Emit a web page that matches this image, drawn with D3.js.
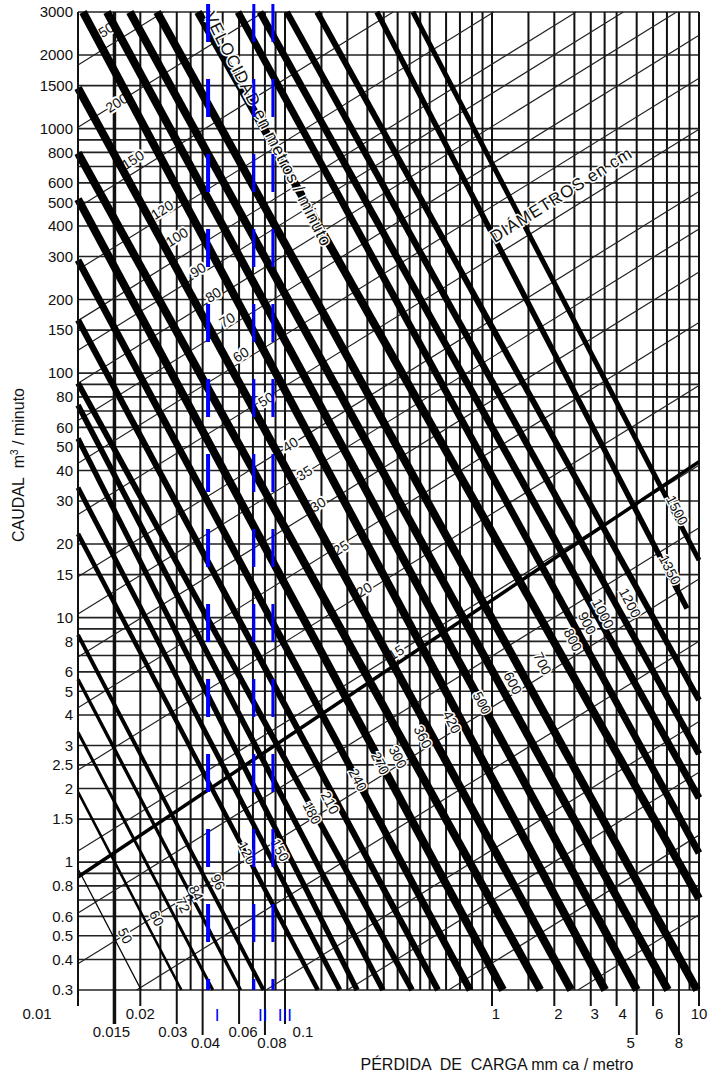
<!DOCTYPE html>
<html>
<head>
<meta charset="utf-8">
<script src="https://cdn.jsdelivr.net/npm/d3@7/dist/d3.min.js"></script>
<style>
  body { margin: 0; background: #fff; }
  text { font-family: "Liberation Sans", Arial, sans-serif; fill: #111; }
</style>
</head>
<body>
<svg id="chart" width="711" height="1077"></svg>
<script>
// ---- data ----
// horizontal grid (caudal m3/min)
const caudalGrid = [3000,2000,1500,1000,900,800,700,600,500,400,300,200,150,100,90,80,70,60,50,40,30,20,15,10,9,8,7,6,5,4,3,2.5,2,1.5,1,0.9,0.8,0.7,0.6,0.5,0.4,0.3];
const caudalTicks = [3000,2000,1500,1000,800,600,500,400,300,200,150,100,80,60,50,40,30,20,15,10,8,6,5,4,3,2.5,2,1.5,1,0.8,0.6,0.5,0.4,0.3];
// vertical grid (perdida de carga mm ca / metro)
const perdidaGrid = [0.01,0.015,0.02,0.025,0.03,0.035,0.04,0.05,0.06,0.07,0.08,0.09,0.1,0.15,0.2,0.25,0.3,0.35,0.4,0.45,0.5,0.6,0.7,0.8,0.9,1,1.5,2,2.5,3,3.5,4,5,6,7,8,9,10];
const perdidaTicks = [0.01,0.015,0.02,0.03,0.04,0.06,0.08,0.1,1,2,3,4,5,6,8,10];
const perdidaTickText = ["0.01","0.015","0.02","0.03","0.04","0.06","0.08","0.1","1","2","3","4","5","6","8","10"];
const perdidaTickRow = [0,1,0,1,2,1,2,1,0,0,0,0,2,0,2,0];
const perdidaTickShift = [-41,-3,0,-4,3,4,7,18,4,4,4,6,-6,6,0,0];

// velocity lines (m/min): start point and end point [perdida, caudal]
const velocidad = [50,60,72,84,96,120,150,180,210,240,270,300,360,420,500,600,700,800,900,1000,1100,1200,1300,1350,1400,1500];
const velInicio = [[0.01,0.94],[0.01,1.94],[0.01,3.4],[0.01,5.6],[0.01,8.5],[0.01,22],[0.01,34],[0.01,54],[0.01,74],[0.01,91],[0.01,165],[0.01,290],[0.01,515],[0.01,795],[0.01,1466],
  [0.01057,3000],[0.0138,3000],[0.0178,3000],[0.0241,3000],[0.038,3000],[0.0593,3000],[0.0757,3000],[0.102,3000],[0.143,3000],[0.278,3000],[0.415,3000]];
const velFin = [[0.0202,0.3],[0.0316,0.3],[0.0448,0.3],[0.061,0.3],[0.0787,0.3],[0.144,0.3],[0.184,0.3],[0.223,0.3],[0.297,0.3],[0.411,0.3],[0.548,0.3],[0.783,0.3],[1.13,0.3],[1.71,0.3],[2.41,0.3],
  [3.52,0.3],[5.01,0.3],[7.08,0.3],[9.78,0.3],[10,0.71],[10,1.09],[10,1.83],[10,2.77],[10,4.6],[8.75,10.9],[10,17.2]];
const velGrosor = [1.3,2.6,3,3.4,4,4.6,5,5.4,5.6,5.8,6.2,7,8,8,8,8,8,8,8,8,7,7,6.5,6,5.5,5];
const velTexto = ["50","60","72","84","96","120","150","180","210","240","270","300","360","420","500","600","700","800","900","1000","","1200","","","1350","1500"];
const velTextoPos = [[0.0169,0.50],[0.024,0.59],[0.0321,0.668],[0.0372,0.748],[0.0474,0.83],[0.0655,1.09],[0.0946,1.12],[0.135,1.59],[0.165,1.75],[0.225,2.17],[0.288,2.54],[0.351,2.69],[0.464,3.25],[0.64,3.74],[0.895,4.48],[1.26,5.4],[1.75,6.5],[2.46,8.1],[2.88,9.5],[3.44,10.4],[4,10],[4.64,11.5],[6,12],[6,12],[7.24,15.7],[7.83,27.5]];

// diameter lines (cm): start and end [perdida, caudal]
const diametro = [250,200,150,120,100,90,80,70,60,50,40,35,30,25,20,15,12,10,8,6,5,4,3];
const diaInicio = [[0.01,1820],[0.01,1014],[0.01,476],[0.01,265],[0.01,164],[0.01,124],[0.01,91],[0.01,64],[0.01,42.8],[0.01,26.4],[0.01,14.7],[0.01,10.35],[0.01,6.9],[0.01,4.28],[0.01,2.38],[0.01,1.11],[0.01,0.62],[0.01,0.384],[0.0192,0.3],[0.081,0.3],[0.2,0.3],[0.617,0.3],[2.6,0.3]];
const diaFin = [[0.0259,3000],[0.0789,3000],[0.333,3000],[1.02,3000],[2.55,3000],[4.31,3000],[7.8,3000],[10,2410],[10,1609],[10,994],[10,553],[10,389],[10,259],[10,161],[10,89],[10,42],[10,23.3],[10,14.4],[10,8.0],[10,3.76],[10,2.33],[10,1.29],[10,0.61]];
const diaTexto = ["250","200","150","120","100","90","80","70","60","50","40","35","30","25","20","15"];
const diaTextoPos = [[0.0132,2485],[0.0154,1274],[0.0184,745],[0.0255,465],[0.030,360],[0.038,264],[0.045,209],[0.0525,165],[0.0612,119],[0.081,78],[0.106,51],[0.124,39],[0.144,29],[0.186,19.3],[0.241,13],[0.344,7.2]];

// heavy rising line
const lineaGruesa = [[0.01,0.87],[10,43.4]];

// blue zone limits
const zonas = ["I","II","III"];
const zonaPerdida = [0.0425,0.0707,0.0874];
const zonaGrosor = [4,3,3];
const zonaTextoDx = [9,9,12];

// ---- drawing ----
const svg = d3.select("#chart");
const x = d3.scaleLog().domain([0.01, 10]).range([78, 699]);
const y = d3.scaleLog().domain([0.3, 3000]).range([990, 12]);
const yTop = y(3000), yBot = y(0.3);

// horizontal grid
svg.append("g").selectAll("line").data(caudalGrid).join("line")
  .attr("x1", x(0.01)).attr("x2", x(10))
  .attr("y1", d => y(d)).attr("y2", d => y(d))
  .attr("stroke", "#222").attr("stroke-width", 1.6);

// vertical grid
svg.append("g").selectAll("line").data(perdidaGrid).join("line")
  .attr("x1", d => x(d)).attr("x2", d => x(d))
  .attr("y1", yTop).attr("y2", yBot)
  .attr("stroke", "#111")
  .attr("stroke-width", d => d === 0.015 ? 3.5 : 2);

// tick extensions below
const rowY = [1019, 1037, 1048];
svg.append("g").selectAll("line").data(perdidaTicks).join("line")
  .attr("x1", d => x(d)).attr("x2", d => x(d))
  .attr("y1", yBot).attr("y2", (d, i) => rowY[perdidaTickRow[i]] - 13)
  .attr("stroke", "#111").attr("stroke-width", (d) => d === 0.015 ? 3.5 : 2);

// thin diameter lines
svg.append("g").selectAll("line").data(diametro).join("line")
  .attr("x1", (d, i) => x(diaInicio[i][0])).attr("y1", (d, i) => y(diaInicio[i][1]))
  .attr("x2", (d, i) => x(diaFin[i][0])).attr("y2", (d, i) => y(diaFin[i][1]))
  .attr("stroke", "#222").attr("stroke-width", 1.2);

// diameter labels
const diaAng = -32;
svg.append("g").selectAll("text").data(diaTexto).join("text")
  .attr("transform", (d, i) => `translate(${x(diaTextoPos[i][0])},${y(diaTextoPos[i][1])}) rotate(${diaAng})`)
  .attr("text-anchor", "middle").attr("dy", "0.35em")
  .attr("font-size", 14)
  .attr("stroke", "#fff").attr("stroke-width", 4).attr("paint-order", "stroke")
  .text(d => d);

// heavy rising line
svg.append("line")
  .attr("x1", x(lineaGruesa[0][0])).attr("y1", y(lineaGruesa[0][1]))
  .attr("x2", x(lineaGruesa[1][0])).attr("y2", y(lineaGruesa[1][1]))
  .attr("stroke", "#000").attr("stroke-width", 3.5);

// velocity lines
svg.append("g").selectAll("line").data(velocidad).join("line")
  .attr("x1", (d, i) => x(velInicio[i][0])).attr("y1", (d, i) => y(velInicio[i][1]))
  .attr("x2", (d, i) => x(velFin[i][0])).attr("y2", (d, i) => y(velFin[i][1]))
  .attr("stroke", "#000").attr("stroke-width", (d, i) => velGrosor[i]);

// velocity labels (on top, small white halo)
const velAng = 63;
svg.append("g").selectAll("text").data(velTexto).join("text")
  .attr("transform", (d, i) => `translate(${x(velTextoPos[i][0])},${y(velTextoPos[i][1])}) rotate(${velAng})`)
  .attr("text-anchor", "middle").attr("dy", "0.35em")
  .attr("font-size", 14)
  .attr("stroke", "#fff").attr("stroke-width", 3).attr("paint-order", "stroke")
  .text(d => d);

// in-chart titles
svg.append("text")
  .attr("transform", `translate(${x(0.0405)},${y(2900)}) rotate(${velAng})`)
  .attr("font-size", 17).attr("letter-spacing", 0.6)
  .attr("stroke", "#fff").attr("stroke-width", 3).attr("paint-order", "stroke")
  .text("VELOCIDAD en metros / minuto");
svg.append("text")
  .attr("transform", `translate(${x(1.03)},${y(340)}) rotate(${diaAng})`)
  .attr("font-size", 17).attr("letter-spacing", 0.8)
  .attr("stroke", "#fff").attr("stroke-width", 3).attr("paint-order", "stroke")
  .text("DIÁMETROS en cm");

// blue dashed zone lines
svg.append("g").selectAll("line").data(zonas).join("line")
  .attr("x1", (d, i) => x(zonaPerdida[i])).attr("x2", (d, i) => x(zonaPerdida[i]))
  .attr("y1", 4).attr("y2", yBot)
  .attr("stroke", "#0000ff").attr("stroke-width", (d, i) => zonaGrosor[i])
  .attr("stroke-dasharray", "38,37");

// y axis
svg.append("line").attr("x1", x(0.01)).attr("x2", x(0.01)).attr("y1", yTop).attr("y2", yBot)
  .attr("stroke", "#111").attr("stroke-width", 2);
svg.append("g").selectAll("text").data(caudalTicks).join("text")
  .attr("x", 73).attr("y", d => y(d)).attr("dy", "0.35em")
  .attr("text-anchor", "end").attr("font-size", 15)
  .text(d => d);

// x tick labels
svg.append("g").selectAll("text").data(perdidaTicks).join("text")
  .attr("x", (d, i) => x(d) + perdidaTickShift[i])
  .attr("y", (d, i) => rowY[perdidaTickRow[i]])
  .attr("text-anchor", "middle").attr("font-size", 15)
  .text((d, i) => perdidaTickText[i]);

svg.append("g").selectAll("text").data(zonas).join("text")
  .attr("x", (d, i) => x(zonaPerdida[i]) + zonaTextoDx[i]).attr("y", 1021)
  .attr("text-anchor", "middle")
  .attr("font-family", "Liberation Serif, serif").attr("font-size", 17)
  .style("fill", "#0000ff")
  .text(d => d);

// axis titles
svg.append("text")
  .attr("transform", "translate(24,465) rotate(-90)")
  .attr("text-anchor", "middle").attr("font-size", 16)
  .html('CAUDAL&#160;&#160;m<tspan dy="-6" font-size="10">3</tspan><tspan dy="6"> / minuto</tspan>');
svg.append("text")
  .attr("x", 497).attr("y", 1070).attr("text-anchor", "middle").attr("font-size", 16)
  .attr("xml:space", "preserve")
  .text("PÉRDIDA  DE  CARGA mm ca / metro");
</script>
</body>
</html>
